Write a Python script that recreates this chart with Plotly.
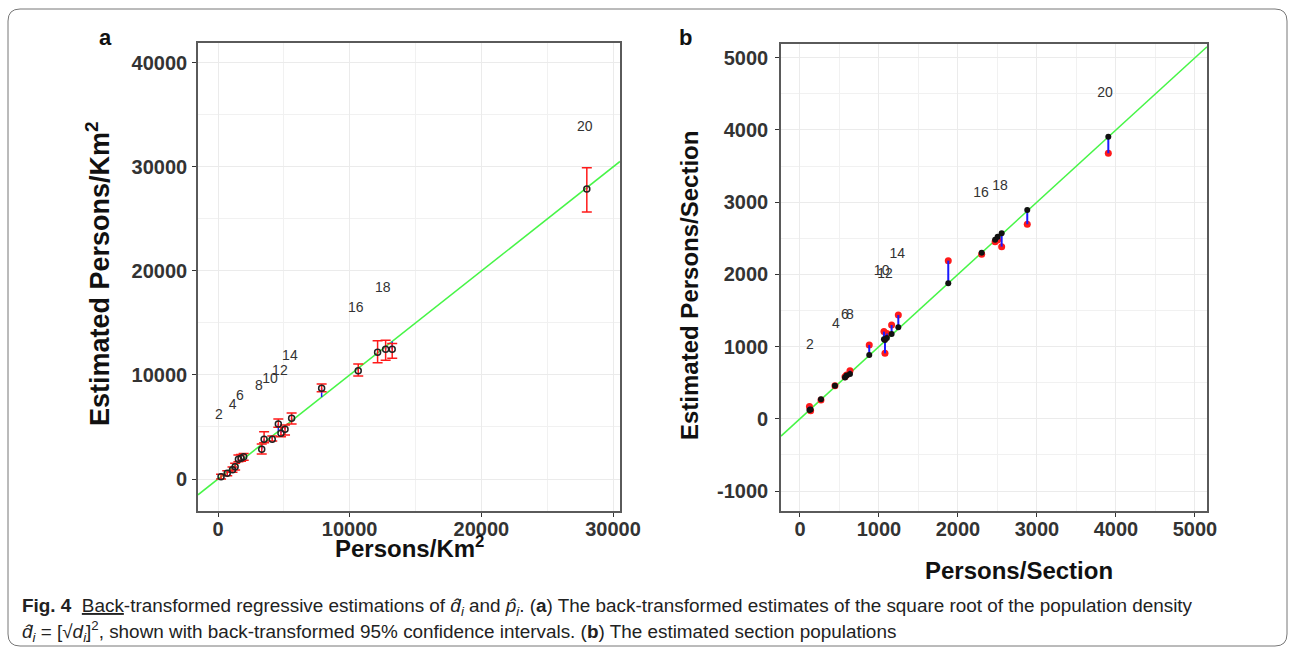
import plotly.graph_objects as go

W, H = 1295, 655

# ---------------- Panel a data (Persons/Km2) ----------------
a_obs = [230, 700, 1100, 1300, 1550, 1750, 1950, 3320, 3500, 4120,
         4580, 4780, 5090, 5590, 7870, 10650, 12120, 12730, 13230, 28010]
a_est = [220, 548, 900, 1180, 1900, 2000, 2150, 2850, 3815, 3815,
         5290, 4390, 4780, 5830, 8720, 10410, 12180, 12470, 12470, 27880]
a_lo = [0, 320, 650, 865, 1660, 1700, 1800, 2400, 3490, 3650,
        4970, 4070, 4230, 5290, 8390, 9900, 11180, 11410, 11600, 25670]
a_hi = [450, 800, 1150, 1510, 2300, 2350, 2450, 3365, 4550, 4135,
        5770, 4970, 5190, 6350, 9130, 11060, 13300, 13340, 13020, 29930]
a_lab = ["2", "4", "6", "8", "10", "12", "14", "16", "18", "20"]
a_lab_x = [76, 1110, 1670, 3110, 3950, 4700, 5460, 10470, 12520, 27860]
a_lab_y = [6090, 7115, 7980, 8875, 9585, 10320, 11760, 16440, 18270, 33750]
a_xrange = [-1520, 30530]
a_yrange = [-3077, 41920]
a_xticks = [0, 10000, 20000, 30000]
a_yticks = [0, 10000, 20000, 30000, 40000]

# ---------------- Panel b data (Persons/Section) ----------------
b_obs = [120, 135, 266, 443, 570, 590, 633, 877, 1063, 1076,
         1100, 1160, 1245, 1877, 2300, 2470, 2502, 2553, 2877, 3903]
b_est = [120, 130, 270, 458, 570, 600, 620, 884, 1100, 1091,
         1120, 1174, 1267, 1877, 2300, 2480, 2522, 2569, 2892, 3907]
b_red = [170, 112, 260, 458, 583, 607, 666, 1022, 1207, 907,
         1180, 1299, 1437, 2190, 2280, 2450, 2476, 2384, 2694, 3677]
b_lab = ["2", "4", "6", "8", "10", "12", "14", "16", "18", "20"]
b_lab_x = [127, 456, 570, 633, 1034, 1076, 1232, 2291, 2532, 3861]
b_lab_y = [1008, 1300, 1425, 1425, 2037, 1992, 2269, 3123, 3215, 4508]
b_xrange = [-240, 5152]
b_yrange = [-1277, 5190]
b_xticks = [0, 1000, 2000, 3000, 4000, 5000]
b_yticks = [-1000, 0, 1000, 2000, 3000, 4000, 5000]

fit_slope, fit_intercept = 1.0, 0.0


def px(x):
    return x / W


def py(y):
    return 1 - y / H


fig = go.Figure()

# ---- panel a ----
fx = a_xrange
fig.add_trace(go.Scatter(x=fx, y=[fit_intercept + fit_slope * v for v in fx],
                         mode="lines", line=dict(color="#47f547", width=1.5),
                         xaxis="x", yaxis="y", hoverinfo="skip"))
seg_x, seg_y = [], []
for o, e in zip(a_obs, a_est):
    seg_x += [o, o, None]
    seg_y += [e, o, None]
fig.add_trace(go.Scatter(x=seg_x, y=seg_y, mode="lines",
                         line=dict(color="#1a1aff", width=1.5), xaxis="x", yaxis="y"))
fig.add_trace(go.Scatter(
    x=a_obs, y=a_est, mode="markers",
    marker=dict(symbol="circle-open", size=6, color="#222", line=dict(width=1.5)),
    error_y=dict(type="data", symmetric=False,
                 array=[h - e for h, e in zip(a_hi, a_est)],
                 arrayminus=[e - l for e, l in zip(a_est, a_lo)],
                 color="#ff1a1a", thickness=1.5, width=5),
    xaxis="x", yaxis="y"))
fig.add_trace(go.Scatter(x=a_lab_x, y=a_lab_y, mode="text", text=a_lab,
                         textfont=dict(family="Liberation Sans, Arial", size=14, color="#333"),
                         xaxis="x", yaxis="y"))

# ---- panel b ----
fx = b_xrange
fig.add_trace(go.Scatter(x=fx, y=[fit_intercept + fit_slope * v for v in fx],
                         mode="lines", line=dict(color="#47f547", width=1.5),
                         xaxis="x2", yaxis="y2", hoverinfo="skip"))
fig.add_trace(go.Scatter(x=b_obs, y=b_red, mode="markers",
                         marker=dict(size=7, color="#ff1a1a"), xaxis="x2", yaxis="y2"))
seg_x, seg_y = [], []
for o, e, r in zip(b_obs, b_est, b_red):
    seg_x += [o, o, None]
    seg_y += [e, r, None]
fig.add_trace(go.Scatter(x=seg_x, y=seg_y, mode="lines",
                         line=dict(color="#1a1aff", width=2), xaxis="x2", yaxis="y2"))
fig.add_trace(go.Scatter(x=b_obs, y=b_est, mode="markers",
                         marker=dict(size=6, color="#111"), xaxis="x2", yaxis="y2"))
fig.add_trace(go.Scatter(x=b_lab_x, y=b_lab_y, mode="text", text=b_lab,
                         textfont=dict(family="Liberation Sans, Arial", size=14, color="#333"),
                         xaxis="x2", yaxis="y2"))

tickfont = dict(family="Liberation Sans, Arial", size=20, color="#333", weight="bold")


def axis(domain, rng, ticks, mdtick, anchor, standoff):
    return dict(showgrid=True, gridcolor="#ebebeb", gridwidth=1.2, zeroline=False,
                showline=True, mirror=True, linecolor="#5a5a5a", linewidth=1.6,
                ticks="outside", ticklen=4, tickcolor="#333", tickfont=tickfont,
                domain=domain, range=rng, anchor=anchor, automargin=False,
                tickmode="array", tickvals=ticks,
                ticktext=[str(t) for t in ticks], ticklabelstandoff=standoff,
                minor=dict(showgrid=True, gridcolor="#f1f1f1", gridwidth=0.8,
                           dtick=mdtick, tick0=0, ticks=""))


fig.update_layout(
    width=W, height=H, margin=dict(l=0, r=0, t=0, b=0, pad=0), autosize=False,
    paper_bgcolor="white", plot_bgcolor="white", showlegend=False,
    font=dict(family="Liberation Sans, Arial"),
    xaxis=axis([px(198), px(620)], a_xrange, a_xticks, 5000, "y", -5),
    yaxis=axis([py(511), py(43)], a_yrange, a_yticks, 5000, "x", 1),
    xaxis2=axis([px(781), px(1207)], b_xrange, b_xticks, 500, "y2", -5),
    yaxis2=axis([py(511), py(44)], b_yrange, b_yticks, 500, "x2", 3),
)

bold = "Liberation Sans, Arial"
ann = []


def text(xp, yp, s, size, angle=0, xanchor="center", family=bold, color="#111"):
    ann.append(dict(x=px(xp), y=py(yp), xref="paper", yref="paper", text=s,
                    showarrow=False, textangle=angle, xanchor=xanchor, yanchor="middle",
                    font=dict(family=family, size=size, color=color)))


text(105, 37, "<b>a</b>", 22)
text(685, 37, "<b>b</b>", 22)
text(98, 274, "<b>Estimated Persons/Km<sup>2</sup></b>", 27, angle=-90)
text(410, 547, "<b>Persons/Km<sup>2</sup></b>", 24)
text(689, 286, "<b>Estimated Persons/Section</b>", 24, angle=-90)
text(1019, 570, "<b>Persons/Section</b>", 24)

cap_font = "Liberation Sans, Arial, sans-serif"
line1 = ("<b>Fig. 4</b>  <u>Back</u>-transformed regressive estimations of <i>d̂<sub>i</sub></i> "
         "and <i>p̂<sub>i</sub></i>. (<b>a</b>) The back-transformed estimates of the square root "
         "of the population density")
line2 = ("<i>d̂<sub>i</sub></i> = [√<i>d<sub>i</sub></i>]<sup>2</sup>, shown with back-transformed "
         "95% confidence intervals. (<b>b</b>) The estimated section populations")
text(20, 607, line1, 18.9, xanchor="left", family=cap_font, color="#222")
text(20, 631, line2, 18.9, xanchor="left", family=cap_font, color="#222")
fig.update_layout(annotations=ann)

# rounded outer frame
x0, x1, y0, y1, r = 8, 1287, 9, 646, 12
path = (f"M {px(x0 + r)},{py(y0)} L {px(x1 - r)},{py(y0)} "
        f"Q {px(x1)},{py(y0)} {px(x1)},{py(y0 + r)} L {px(x1)},{py(y1 - r)} "
        f"Q {px(x1)},{py(y1)} {px(x1 - r)},{py(y1)} L {px(x0 + r)},{py(y1)} "
        f"Q {px(x0)},{py(y1)} {px(x0)},{py(y1 - r)} L {px(x0)},{py(y0 + r)} "
        f"Q {px(x0)},{py(y0)} {px(x0 + r)},{py(y0)} Z")
fig.add_shape(type="path", path=path, xref="paper", yref="paper",
              line=dict(color="#777", width=1))

fig.write_html("out.html", config={"responsive": False, "displayModeBar": False},
               post_script="document.body.style.margin='0';document.body.style.overflow='hidden';")
